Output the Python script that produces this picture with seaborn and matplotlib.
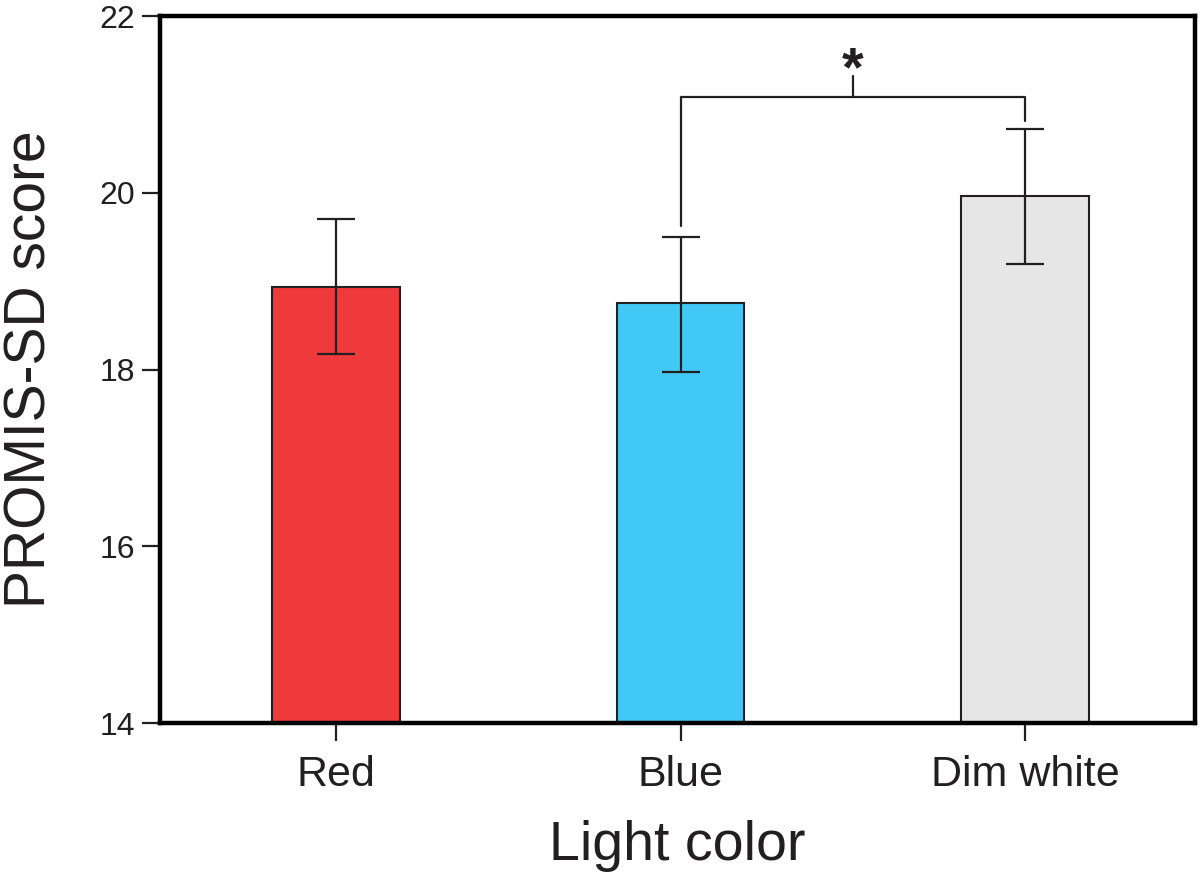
import matplotlib
matplotlib.use("Agg")
import matplotlib.pyplot as plt
import seaborn as sns
import pandas as pd

categories = ["Red", "Blue", "Dim white"]
means = [18.93, 18.75, 19.96]
err_upper = [19.70, 19.50, 20.72]
err_lower = [18.17, 17.97, 19.19]
bar_colors = ["#EE3A3B", "#42C8F4", "#E6E6E6"]
y_ticks = [14, 16, 18, 20, 22]

# significance bracket between Blue and Dim white
bracket_pair = (1, 2)
bracket_y = 21.08
bracket_left_bottom = 19.62
bracket_right_bottom = 20.81
bracket_tick_top = 21.32
sig_y = 21.38
sig_label = "*"

sns.set_theme(style="white")
plt.rcParams['font.family'] = ['Liberation Sans', 'DejaVu Sans']

df = pd.DataFrame({"Light color": categories, "score": means})

fig = plt.figure(figsize=(12, 8.8), dpi=100)
ax = fig.add_axes([0.1333, 0.1784, 0.9958 - 0.1333, 0.9818 - 0.1784])

sns.barplot(data=df, x="Light color", y="score", hue="Light color",
            palette=bar_colors, order=categories, hue_order=categories,
            width=0.37, edgecolor="#231F20", linewidth=1.5, legend=False,
            errorbar=None, saturation=1, ax=ax)

yerr = [[m - lo for m, lo in zip(means, err_lower)],
        [hi - m for m, hi in zip(means, err_upper)]]
ax.errorbar(range(len(categories)), means, yerr=yerr, fmt="none",
            ecolor="#231F20", elinewidth=1.6, capsize=14, capthick=1.6, zorder=5)

# bracket
x0, x1 = bracket_pair
xm = (x0 + x1) / 2
ax.plot([x0, x0, x1, x1], [bracket_left_bottom, bracket_y, bracket_y, bracket_right_bottom],
        color="#231F20", lw=1.6, clip_on=False)
ax.plot([xm, xm], [bracket_y, bracket_tick_top], color="#231F20", lw=1.6, clip_on=False)
ax.text(xm, sig_y, sig_label, ha="center", va="center",
        fontsize=40, fontweight="bold", color="#231F20")

ax.set_ylim(14, 22)
ax.set_xlim(-0.511, 2.493)
ax.set_yticks(y_ticks)
ax.set_yticklabels([str(t) for t in y_ticks], fontsize=23, color="#231F20")
ax.set_xticks(range(len(categories)))
ax.set_xticklabels(categories, fontsize=31, color="#231F20")

for s in ax.spines.values():
    s.set_visible(True)
    s.set_linewidth(3.2)
    s.set_color("black")

ax.tick_params(axis="both", direction="out", length=13, width=1.6, color="#231F20",
               bottom=True, left=True)
ax.tick_params(axis="x", pad=10)
ax.tick_params(axis="y", pad=5)

ax.set_xlabel("Light color", fontsize=40, color="#231F20", labelpad=18)
ax.set_ylabel("PROMIS-SD score", fontsize=41, color="#231F20", labelpad=30)

fig.savefig("out.png", dpi=100)
